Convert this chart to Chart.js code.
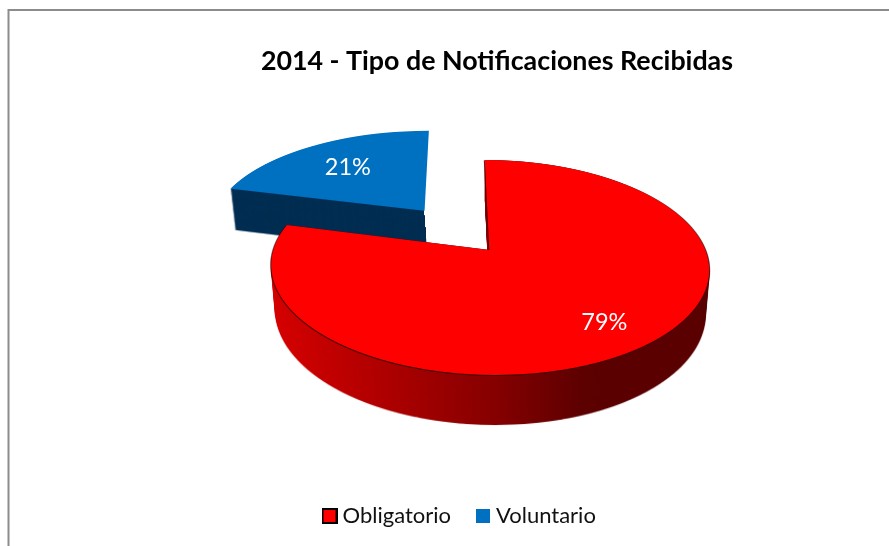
<!DOCTYPE html>
<html><head><meta charset="utf-8">
<style>html,body{margin:0;padding:0;background:#fff;overflow:hidden}#w{position:relative;width:889px;height:546px}</style>
<script src="https://cdn.jsdelivr.net/npm/chart.js@4"></script>
</head><body><div id="w"><canvas id="c" width="889" height="546"></canvas></div>
<script>
const categories = ['Obligatorio', 'Voluntario'];
const values = [79, 21];
const colors = ['#ff0000', '#0070c0'];
const chartTitle = '2014 - Tipo de Notificaciones Recibidas';
const explode = [0, 0.505];
const stretch = [1, 1.032];
const labelRadius = [0.76, 0.69];

// perspective of the tilted disc
const VIEW = {y0: 250, b: 104.6, k: -0.163, xc: 457, u0: 32.3, a: 216};
// extrusion of the disc
const WALL = {x: 491, y: 268, depth: 45, sx: -0.018, sy: 0.047};

function rowMap(y) {
  const Y = y - VIEW.y0;
  const v = Y / (VIEW.b - VIEW.k * Y);
  const g = 1 / (1 + VIEW.k * v);
  return {v, g, slope: VIEW.b * g * g};
}
function project(u, v) {
  const g = 1 / (1 + VIEW.k * v);
  return {x: VIEW.xc + (VIEW.u0 + VIEW.a * u) * g, y: VIEW.y0 + VIEW.b * v * g};
}
function shift(el, i) {
  const mid = (el.startAngle + el.endAngle) / 2 + Math.PI / 2;
  return {du: explode[i] * Math.sin(mid), dv: -explode[i] * Math.cos(mid)};
}
// draws the library's arc element row by row through the perspective
function paintArc(ctx, el, i, W, H) {
  const {du, dv} = shift(el, i);
  const R = el.outerRadius, cx = el.x, cy = el.y;
  for (let y = 100; y < 400; y++) {
    const m = rowMap(y + 0.5);
    ctx.save();
    ctx.beginPath(); ctx.rect(0, y, W, 1); ctx.clip();
    const sx = VIEW.a * stretch[i] * m.g / R, sy = m.slope / R;
    ctx.setTransform(sx, 0, 0, sy,
      VIEW.xc + (VIEW.u0 + VIEW.a * du) * m.g - sx * cx,
      y + 0.5 - m.slope * (m.v - dv) - sy * cy);
    el.draw(ctx);
    ctx.restore();
  }
}
function layer(el, i, W, H) {
  const c = document.createElement('canvas');
  c.width = W; c.height = H;
  paintArc(c.getContext('2d'), el, i, W, H);
  return c;
}
function tinted(src, fill) {
  const c = document.createElement('canvas');
  c.width = src.width; c.height = src.height;
  const x = c.getContext('2d');
  x.drawImage(src, 0, 0);
  x.globalCompositeOperation = 'source-in';
  x.fillStyle = fill;
  x.fillRect(0, 0, c.width, c.height);
  return c;
}
function redWall(ctx) {
  const g = ctx.createLinearGradient(272, 0, 600, 0);
  g.addColorStop(0, '#d60000');
  g.addColorStop(0.33, '#b00000');
  g.addColorStop(0.68, '#860000');
  g.addColorStop(0.95, '#5e0000');
  g.addColorStop(1, '#5c0000');
  return g;
}
function legendBox(i) {
  const c = document.createElement('canvas');
  c.width = 16; c.height = 16;
  const x = c.getContext('2d');
  if (i === 0) {
    x.fillStyle = '#000'; x.fillRect(0, 0, 16, 16);
    x.fillStyle = colors[i]; x.fillRect(2, 2, 12, 12);
  } else {
    x.fillStyle = colors[i]; x.fillRect(1, 1, 14, 14);
  }
  return c;
}
const frameAndPie = {
  id: 'frameAndPie',
  afterLayout(chart) {
    const lg = chart.legend;
    const pad = lg.options.labels.padding;
    const w = lg.right - lg.left;
    lg.left = 327.5 - pad;
    lg.right = lg.left + w;
    lg.top = 505 - pad;
  },
  beforeDraw(chart) {
    const {ctx} = chart;
    ctx.save();
    ctx.strokeStyle = '#8c8c8c';
    ctx.lineWidth = 2;
    ctx.beginPath();
    ctx.moveTo(8.5, chart.height);
    ctx.lineTo(8.5, 10);
    ctx.lineTo(chart.width, 10);
    ctx.stroke();
    ctx.restore();
  },
  beforeDatasetDraw(chart) {
    const {ctx} = chart;
    const W = chart.width, H = chart.height;
    const els = chart.getDatasetMeta(0).data;
    const order = [1, 0];
    for (const i of order) {
      const top = layer(els[i], i, W, H);
      const wallFill = i === 0 ? redWall(ctx) : '#002e52';
      const wall = tinted(top, wallFill);
      ctx.save();
      if (i === 1) {
        const {du, dv} = shift(els[i], i);
        const tip = project(du, dv);
        const corner = project(du, dv - 1);
        ctx.beginPath();
        ctx.moveTo(corner.x - 1.5, corner.y);
        ctx.lineTo(tip.x - 1, tip.y - 1);
        ctx.lineTo(tip.x + 3, tip.y + WALL.depth);
        ctx.lineTo(0, tip.y + WALL.depth);
        ctx.lineTo(0, corner.y);
        ctx.closePath();
        ctx.clip();
      }
      for (let d = WALL.depth; d >= 1; d--) {
        const t = d / WALL.depth;
        const sx = 1 + WALL.sx * t, sy = 1 + WALL.sy * t;
        ctx.setTransform(sx, 0, 0, sy, WALL.x - WALL.x * sx, WALL.y - WALL.y * sy + d);
        ctx.drawImage(wall, 0, 0);
      }
      ctx.setTransform(1, 0, 0, 1, 0, 0);
      ctx.restore();
      if (i === 0) {
        const edge = tinted(top, '#3c0000');
        ctx.drawImage(edge, 0, 0.8);
        ctx.drawImage(edge, -0.8, 0.3);
        ctx.drawImage(edge, 0.8, 0.3);
      }
      ctx.drawImage(top, 0, 0);
    }
    ctx.save();
    ctx.fillStyle = '#fff';
    ctx.font = '23.5px Lato';
    ctx.textAlign = 'center';
    ctx.textBaseline = 'middle';
    const total = values.reduce((a, b) => a + b, 0);
    els.forEach((el, i) => {
      const {du, dv} = shift(el, i);
      const mid = (el.startAngle + el.endAngle) / 2 + Math.PI / 2;
      const p = project(du + labelRadius[i] * Math.sin(mid), dv - labelRadius[i] * Math.cos(mid));
      ctx.fillText(Math.round(values[i] / total * 100) + '%', p.x, p.y + 3);
    });
    ctx.restore();
    return false;
  }
};
new Chart(document.getElementById('c'), {
  type: 'pie',
  data: {labels: categories, datasets: [{data: values, backgroundColor: colors, borderWidth: 0}]},
  plugins: [frameAndPie],
  options: {
    responsive: false,
    animation: false,
    events: [],
    layout: {padding: {left: 250, right: 156, top: 45, bottom: 14}},
    plugins: {
      tooltip: {enabled: false},
      title: {display: true, text: chartTitle, align: 'end', color: '#000',
        font: {family: 'Lato', size: 26.8, weight: 'bold'}, padding: {top: 0, bottom: 10}},
      legend: {
        position: 'bottom', align: 'start',
        labels: {
          color: '#111', usePointStyle: true, pointStyleWidth: 4, boxHeight: 14, padding: 30,
          font: {family: 'Lato', size: 22},
          generateLabels(chart) {
            return categories.map((text, i) => ({
              text, index: i, pointStyle: legendBox(i), fillStyle: colors[i],
              strokeStyle: colors[i], lineWidth: 0, hidden: false, fontColor: '#111'
            }));
          }
        }
      }
    }
  }
});
</script></body></html>
